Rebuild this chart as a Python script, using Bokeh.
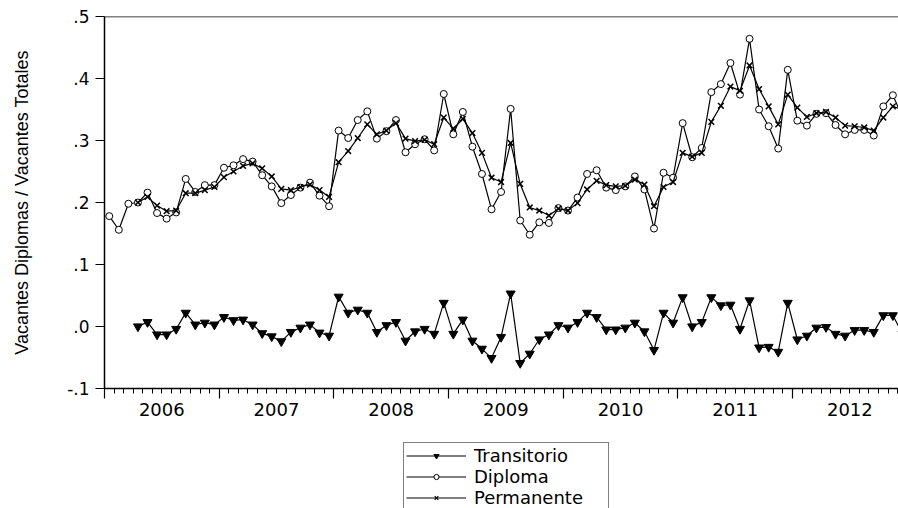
from bokeh.plotting import figure
from bokeh.layouts import column
from bokeh.models import FixedTicker, LinearAxis, Legend, LegendItem, Span, Range1d
from bokeh.embed import file_html
from bokeh.resources import INLINE

# Monthly observations, Jan 2006 .. Dec 2012
years = [2006, 2007, 2008, 2009, 2010, 2011, 2012]
year_labels = ["2006", "2007", "2008", "2009", "2010", "2011", "2012"]
months = list(range(1, 13))

diploma = [
    0.178, 0.156, 0.198, 0.200, 0.216, 0.183, 0.174, 0.184, 0.238, 0.217, 0.228, 0.228,
    0.256, 0.260, 0.270, 0.266, 0.244, 0.226, 0.199, 0.212, 0.224, 0.232, 0.211, 0.194,
    0.316, 0.304, 0.333, 0.347, 0.303, 0.315, 0.333, 0.281, 0.294, 0.302, 0.284, 0.375,
    0.310, 0.346, 0.290, 0.246, 0.189, 0.217, 0.351, 0.171, 0.148, 0.168, 0.167, 0.191,
    0.187, 0.208, 0.246, 0.252, 0.224, 0.220, 0.226, 0.242, 0.221, 0.158, 0.248, 0.240,
    0.328, 0.273, 0.288, 0.378, 0.391, 0.425, 0.374, 0.464, 0.350, 0.323, 0.287, 0.414,
    0.332, 0.324, 0.343, 0.344, 0.325, 0.310, 0.317, 0.317, 0.308, 0.355, 0.373, 0.338,
]
permanente = [
    None, None, None, 0.200, 0.209, 0.195, 0.186, 0.187, 0.215, 0.215, 0.220, 0.225,
    0.241, 0.250, 0.259, 0.263, 0.255, 0.242, 0.222, 0.220, 0.225, 0.229, 0.220, 0.209,
    0.265, 0.283, 0.304, 0.326, 0.310, 0.316, 0.328, 0.303, 0.299, 0.301, 0.294, 0.337,
    0.319, 0.335, 0.312, 0.280, 0.240, 0.233, 0.296, 0.230, 0.192, 0.187, 0.179, 0.190,
    0.187, 0.199, 0.221, 0.235, 0.228, 0.226, 0.227, 0.237, 0.229, 0.194, 0.225, 0.233,
    0.280, 0.274, 0.280, 0.330, 0.356, 0.387, 0.380, 0.421, 0.383, 0.355, 0.326, 0.374,
    0.353, 0.338, 0.344, 0.346, 0.337, 0.324, 0.323, 0.321, 0.316, 0.337, 0.355, 0.350,
]
transitorio = [
    None, None, None, 0.000, 0.007, -0.013, -0.013, -0.004, 0.022, 0.003, 0.006, 0.003,
    0.015, 0.010, 0.011, 0.003, -0.011, -0.016, -0.024, -0.009, -0.002, 0.003, -0.010, -0.015,
    0.048, 0.022, 0.027, 0.022, -0.009, 0.002, 0.007, -0.023, -0.008, -0.004, -0.012, 0.038,
    -0.012, 0.011, -0.023, -0.036, -0.051, -0.017, 0.053, -0.059, -0.044, -0.021, -0.013, 0.002,
    -0.002, 0.007, 0.022, 0.015, -0.005, -0.005, -0.002, 0.006, -0.008, -0.038, 0.022, 0.006,
    0.047, 0.000, 0.007, 0.047, 0.034, 0.035, -0.004, 0.042, -0.034, -0.033, -0.041, 0.038,
    -0.021, -0.015, -0.002, -0.001, -0.012, -0.015, -0.006, -0.006, -0.009, 0.018, 0.018, -0.012,
]

y_ticks = [-0.1, 0.0, 0.1, 0.2, 0.3, 0.4, 0.5]
y_tick_labels = ["-.1", ".0", ".1", ".2", ".3", ".4", ".5"]

series_names = ["Transitorio", "Diploma", "Permanente"]

nan = float("nan")
def clean(v):
    return [nan if a is None else a for a in v]

x = [yr + (m - 0.5) / 12.0 for yr in years for m in months]

FONT = "DejaVu Sans"

p = figure(width=898, height=430, output_backend="svg", toolbar_location=None,
           x_range=Range1d(2006.0, 2012.924), y_range=Range1d(-0.1, 0.5),
           min_border_left=104, min_border_right=0, min_border_top=16, min_border_bottom=42,
           background_fill_color="white", border_fill_color="white")
p.outline_line_color = None
p.xgrid.visible = False
p.ygrid.visible = False

# y axis
ya = p.yaxis[0]
ya.ticker = FixedTicker(ticks=y_ticks, minor_ticks=[])
ya.major_label_overrides = dict(zip(y_ticks, y_tick_labels))
ya.major_tick_out = 9
ya.major_tick_in = 0
ya.minor_tick_line_color = None
ya.major_label_standoff = 6
ya.major_label_text_font = FONT
ya.major_label_text_font_size = "17px"
ya.major_label_text_color = "black"
ya.axis_line_color = "black"
ya.axis_line_width = 1.5
ya.major_tick_line_width = 1.2
ya.axis_label = "Vacantes Diplomas / Vacantes Totales"
ya.axis_label_text_font = "Liberation Sans"
ya.axis_label_text_font_size = "18px"
ya.axis_label_text_font_style = "normal"
ya.axis_label_text_color = "black"
ya.axis_label_standoff = 32

# x axis: tick marks (year boundaries + months), no labels
xa = p.xaxis[0]
xa.ticker = FixedTicker(ticks=[float(yr) for yr in years] + [2013.0],
                        minor_ticks=[yr + k / 12.0 for yr in years for k in range(12)])
xa.major_tick_out = 10
xa.major_tick_in = 0
xa.minor_tick_out = 5
xa.minor_tick_in = 0
xa.major_label_text_font_size = "1px"
xa.major_label_text_color = None
xa.major_label_standoff = 0
xa.axis_line_color = "black"
xa.axis_line_width = 1.5
xa.major_tick_line_width = 1.2
xa.minor_tick_line_width = 1

# x axis: year labels centred in each year
mid = [yr + 0.5 for yr in years]
xl = LinearAxis(ticker=FixedTicker(ticks=mid, minor_ticks=[]),
                major_label_overrides=dict(zip(mid, year_labels)))
xl.axis_line_color = None
xl.major_tick_line_color = None
xl.minor_tick_line_color = None
xl.major_tick_out = 0
xl.major_tick_in = 0
xl.major_label_standoff = 4
xl.major_label_text_font = FONT
xl.major_label_text_font_size = "18px"
xl.major_label_text_color = "black"
p.add_layout(xl, "below")

p.add_layout(Span(location=0.5, dimension="width", line_color="black", line_width=1.5))

p.line(x, clean(transitorio), line_color="black", line_width=1.2)
p.scatter(x, clean(transitorio), marker="inverted_triangle", size=9,
          fill_color="black", line_color="black")
p.line(x, clean(diploma), line_color="black", line_width=1.2)
p.scatter(x, clean(diploma), marker="circle", size=7,
          fill_color="white", line_color="black", line_width=1)
p.line(x, clean(permanente), line_color="black", line_width=1.2)
p.scatter(x, clean(permanente), marker="x", size=8,
          line_color="black", line_width=1.5)

# legend strip below the chart: same series, ranges chosen so only the legend shows
q = figure(width=898, height=78, output_backend="svg", toolbar_location=None,
           x_range=Range1d(0, 1), y_range=Range1d(0, 1),
           x_axis_location=None, y_axis_location=None,
           min_border_left=0, min_border_right=0, min_border_top=0, min_border_bottom=0,
           background_fill_color="white", border_fill_color="white")
q.outline_line_color = None
q.xgrid.visible = False
q.ygrid.visible = False
lt = q.line(x, clean(transitorio), line_color="black", line_width=1.2)
st = q.scatter(x, clean(transitorio), marker="inverted_triangle", size=5,
               fill_color="black", line_color="black")
ld = q.line(x, clean(diploma), line_color="black", line_width=1.2)
sd = q.scatter(x, clean(diploma), marker="circle", size=4,
               fill_color="white", line_color="black")
lp = q.line(x, clean(permanente), line_color="black", line_width=1.2)
sp = q.scatter(x, clean(permanente), marker="x", size=5,
               line_color="black", line_width=1.2)

legend = Legend(items=[
    LegendItem(label=series_names[0], renderers=[lt, st]),
    LegendItem(label=series_names[1], renderers=[ld, sd]),
    LegendItem(label=series_names[2], renderers=[lp, sp]),
], location=(299, -3), orientation="vertical")
legend.glyph_width = 60
legend.glyph_height = 13
legend.label_height = 21
legend.label_width = 132
legend.label_standoff = 8
legend.padding = 2
legend.spacing = 0
legend.margin = 0
legend.border_line_color = "black"
legend.border_line_width = 1
legend.label_text_font = FONT
legend.label_text_font_size = "18px"
legend.label_text_color = "black"
legend.background_fill_color = "white"
q.add_layout(legend)

layout = column(p, q, spacing=0)
open("out.html", "w").write(file_html(layout, INLINE))
